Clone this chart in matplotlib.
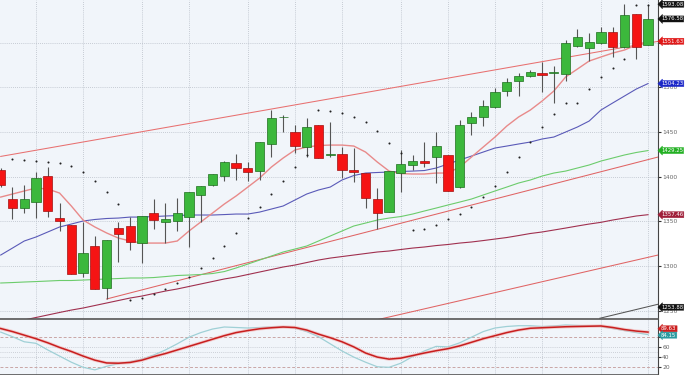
import matplotlib
matplotlib.use('Agg')
import matplotlib.pyplot as plt
import numpy as np

# daily candles, index 0..55
opens  = [1407, 1375, 1365, 1372, 1401, 1354, 1346, 1292, 1322, 1275, 1342.5, 1345, 1326, 1359, 1349, 1350,
          1355, 1379.5, 1391, 1401, 1415, 1410, 1406, 1437, 1466.5, 1450, 1433, 1458, 1424, 1425, 1407.5, 1404,
          1375, 1360, 1404, 1413, 1417.5, 1422, 1424, 1388, 1460, 1467, 1478, 1496, 1507, 1513, 1516, 1516,
          1515, 1546, 1544, 1550, 1562, 1545, 1582, 1547]
highs  = [1410, 1388, 1391, 1405, 1411, 1370, 1346, 1349, 1334, 1329, 1349, 1355, 1356, 1375, 1370, 1376,
          1383, 1390, 1403, 1417.5, 1425, 1416, 1439, 1475, 1469, 1458, 1466, 1458, 1461, 1433, 1432, 1404,
          1387, 1406, 1430, 1424, 1439, 1450, 1424, 1463, 1472, 1486, 1499, 1510.5, 1516, 1519, 1528, 1524,
          1553, 1565, 1561, 1567.5, 1567.5, 1593, 1582, 1592]
lows   = [1388, 1353, 1359, 1354, 1355, 1339, 1291, 1288, 1274, 1263, 1304.5, 1318, 1303, 1342, 1326, 1339,
          1321, 1349, 1390, 1395, 1396, 1395, 1396, 1422, 1450, 1426.5, 1422, 1421, 1422, 1398.5, 1394, 1365,
          1341, 1360, 1383, 1407.5, 1411, 1393, 1384, 1387, 1447, 1457, 1477, 1490, 1490, 1512, 1495, 1482.5,
          1507, 1545, 1529.5, 1548.5, 1534, 1544, 1532, 1547]
closes = [1391, 1365, 1375, 1398, 1362, 1350, 1291, 1315, 1274, 1329, 1336, 1327, 1356, 1351.5, 1352.5, 1359,
          1383, 1389.5, 1403, 1416, 1410, 1405, 1439, 1466, 1466.5, 1434, 1456, 1421, 1425, 1407.5, 1405, 1376,
          1359, 1406, 1414, 1417.5, 1415, 1434, 1384, 1458, 1467, 1479, 1495, 1506, 1513, 1517, 1514, 1517,
          1550, 1556, 1551, 1562, 1545, 1581, 1545, 1576.58]

ma_short = [1377.2, 1380.6, 1384.0, 1387.3, 1386.2, 1381.7, 1367.2, 1351.5, 1343.7, 1337.0, 1331.3, 1328.0,
            1325.7, 1325.7, 1325.7, 1328.0, 1339.2, 1349.3, 1359.3, 1369.4, 1378.4, 1388.4, 1398.5, 1410.8,
            1420.9, 1429.9, 1433.2, 1434.9, 1435.4, 1435.4, 1434.3, 1427.6, 1416.4, 1406.3, 1403.5, 1403.0,
            1403.0, 1404.1, 1404.1, 1410.8, 1422.0, 1433.2, 1444.4, 1456.7, 1466.8, 1474.6, 1484.7, 1495.9,
            1511.6, 1520.5, 1529.5, 1534.0, 1538.4, 1541.8, 1547.4, 1551.63]
ma_mid = [1312.3, 1320.1, 1328.0, 1332.5, 1338.1, 1343.7, 1347.0, 1350.4, 1352.1, 1353.2, 1353.7, 1354.8,
          1354.8, 1355.4, 1356.0, 1356.5, 1357.1, 1357.1, 1357.1, 1357.6, 1358.2, 1358.2, 1360.4, 1363.8,
          1367.2, 1373.9, 1380.6, 1385.1, 1388.4, 1396.3, 1401.3, 1404.1, 1404.7, 1405.2, 1405.8, 1406.3,
          1406.9, 1409.7, 1414.2, 1418.7, 1423.1, 1427.6, 1432.1, 1434.3, 1436.6, 1438.8, 1442.2, 1444.4,
          1450.0, 1455.6, 1462.3, 1474.6, 1482.5, 1490.3, 1498.1, 1504.23]
ma_long = [1281.0, 1281.5, 1282.1, 1282.6, 1283.2, 1283.8, 1283.8, 1284.3, 1284.9, 1285.5, 1286.0, 1286.6,
           1286.6, 1287.1, 1288.2, 1289.4, 1289.9, 1290.5, 1291.6, 1293.8, 1297.8, 1302.2, 1306.7, 1311.2,
           1315.7, 1319.0, 1322.4, 1328.0, 1333.6, 1339.2, 1344.8, 1348.1, 1351.5, 1353.7, 1355.4, 1358.2,
           1361.6, 1364.9, 1368.3, 1371.6, 1375.0, 1379.5, 1384.0, 1388.4, 1392.9, 1396.3, 1400.7, 1404.1,
           1406.3, 1409.7, 1413.1, 1417.5, 1420.9, 1424.3, 1427.1, 1429.25]
ma_slow = [1234.5, 1237.3, 1239.6, 1242.4, 1245.2, 1248.0, 1250.7, 1253.0, 1255.8, 1258.6, 1261.4, 1264.2,
           1266.4, 1269.2, 1272.0, 1274.3, 1277.1, 1279.9, 1282.7, 1285.5, 1287.7, 1290.5, 1293.3, 1296.1,
           1298.9, 1301.1, 1303.9, 1306.7, 1308.9, 1310.6, 1312.3, 1314.0, 1315.7, 1316.8, 1318.5, 1320.1,
           1321.3, 1322.9, 1324.1, 1325.7, 1326.9, 1328.5, 1330.2, 1331.9, 1334.1, 1336.4, 1338.1, 1340.3,
           1342.5, 1344.8, 1347.0, 1348.9, 1351.5, 1353.7, 1356.0, 1357.46]

nan = np.nan
sar = [nan, 1419.8, 1418.7, 1417.5, 1416.1, 1415.0, 1412.3, 1404.7, 1395.1, 1382.8, 1369.4, 1261.9,
       1264.2, 1268.3, 1274.3, 1280.6, 1288.0, 1297.4, 1308.6, 1322.4, 1336.9, 1353.7, 1366.0, 1380.6,
       1395.1, 1410.8, 1424.3, 1474.6, 1473.5, 1471.3, 1466.8, 1461.2, 1451.1, 1437.7, 1426.5, 1340.3,
       1341.4, 1345.9, 1352.3, 1357.9, 1366.4, 1376.9, 1389.9, 1404.9, 1422.0, 1438.8, 1455.6, 1470.1,
       1482.5, 1482.5, 1498.1, 1511.6, 1521.6, 1531.7, 1592.2, 1592.2]

# trend lines: (index, price) anchors
upper_line = [(0, 1422.7), (55.85, 1551.5)]
line_a = [(9, 1263.1), (55.85, 1422.0)]
line_c = [(31.9, 1239.6), (55.85, 1312.3)]
line_d = [(50.9, 1241.5), (55.85, 1257.2)]

stoch_d = [96, 90, 83, 76, 68, 59, 51, 42, 34, 28.5, 28, 29.5, 34, 41, 47, 54, 61, 68, 75, 82, 88, 92,
           95.5, 97.5, 99, 98, 93, 85, 78, 70, 60, 48, 40, 36, 38, 43, 48, 52.5, 56.5, 62, 69, 76, 82, 88,
           93, 96.5, 97.5, 98.5, 99.5, 100, 100.5, 101, 98, 94, 91, 89]
stoch_k = [89, 80, 70, 67, 54, 42, 30, 20, 15, 22, 27, 31, 36, 44, 54, 66, 79, 88, 95, 99, 98, 97, 98, 99,
           99, 97, 90, 80, 66, 52, 40, 30, 21, 20, 28, 41, 52, 61, 60, 68, 79, 90, 97, 100, 101.5, 101.5,
           100, 101, 103, 102, 101, 100, 96, 92, 88, 84]

week_starts = [3, 7, 12, 16, 21, 25, 29, 34, 38, 42, 46, 51, 55]
price_ticks = [1250, 1300, 1350, 1400, 1450, 1500, 1550]
osc_ticks = [20, 40, 60, 80]
osc_labels = ['20', '40', '60', '']   # 80 sits behind the value tags

price_tags = [(1593.08, '#111111'), (1576.58, '#111111'), (1551.63, '#e01818'), (1504.23, '#1c28c8'),
              (1429.25, '#22b022'), (1357.46, '#a0203a'), (1253.88, '#111111')]
osc_tags = [(95.5, '#cc1f1f'), (83.0, '#2a9aa0')]
osc_tag_text = ['89.63', '84.15']

bg = '#f1f5fa'
fig = plt.figure(figsize=(6.85, 3.75), dpi=100)
ax = fig.add_axes([0, 56 / 375, 658 / 685, 319 / 375])
ax2 = fig.add_axes([0, 0, 658 / 685, 55 / 375], sharex=ax)

x = np.arange(len(closes))
o = np.array(opens); c = np.array(closes); h = np.array(highs); l = np.array(lows)

for a in (ax, ax2):
    a.set_facecolor(bg)
    for w in week_starts:
        a.axvline(w, color='#b8bec8', lw=0.6, ls=(0, (1, 1.5)), zorder=0)
    for s in ['left', 'top']:
        a.spines[s].set_visible(False)
    a.spines['right'].set_color('#444444')
    a.spines['right'].set_linewidth(0.8)
    a.spines['bottom'].set_color('#555555')
    a.spines['bottom'].set_linewidth(1.2)
    a.yaxis.tick_right()
    a.tick_params(axis='y', direction='out', length=2, width=0.8, color='#333333',
                  labelsize=4.3, labelcolor='#666666', pad=1)
    a.tick_params(axis='x', bottom=False, labelbottom=False)

for p in price_ticks:
    ax.axhline(p, color='#b8bec8', lw=0.6, ls=(0, (1, 1.5)), zorder=0)

# trend lines
for line, col in [(upper_line, '#e87070'), (line_a, '#e06464'), (line_c, '#e06464'), (line_d, '#555555')]:
    ax.plot([line[0][0], line[1][0]], [line[0][1], line[1][1]], color=col, lw=0.75, zorder=1)

ax.plot(x, ma_slow, color='#a0304f', lw=0.8, zorder=1)
ax.plot(x, ma_long, color='#6ccc6c', lw=0.8, zorder=1)
ax.plot(x, ma_mid, color='#5a5ab8', lw=0.8, zorder=1)
ax.plot(x, ma_short, color='#e88a8a', lw=1.0, zorder=1)

# candles
up = c >= o
body_lo = np.minimum(o, c)
body_h = np.maximum(np.abs(c - o), 0.8)
ax.vlines(x, l, h, color='#555555', lw=0.8, zorder=2)
ax.bar(x[up], body_h[up], bottom=body_lo[up], width=0.78, color='#3cb83c', edgecolor='#1e6e1e', lw=0.5, zorder=3)
ax.bar(x[~up], body_h[~up], bottom=body_lo[~up], width=0.78, color='#f51414', edgecolor='#a01010', lw=0.5, zorder=3)

ax.scatter(x, sar, s=2.2, color='#222222', linewidths=0, zorder=4)

ax.set_xlim(-0.06, 55.85)
ax.set_ylim(1240.7, 1597.8)
ax.set_yticks(price_ticks)
ax.set_yticklabels([str(p) for p in price_ticks])


def tag(axis, text, val, col):
    axis.annotate(text, xy=(1.0, val), xycoords=axis.get_yaxis_transform(), xytext=(2.2, 0),
                  textcoords='offset points', fontsize=3.9, color='white', va='center', ha='left',
                  annotation_clip=False, zorder=10,
                  bbox=dict(boxstyle='larrow,pad=0.1', fc=col, ec=col, lw=0.3))


for val, col in price_tags:
    tag(ax, f'{val:.2f}', val, col)

# oscillator panel
ax2.axhline(80, color='#c9a6a6', lw=0.7, ls=(0, (3, 2)), zorder=0)
ax2.axhline(20, color='#c9a6a6', lw=0.7, ls=(0, (3, 2)), zorder=0)
for lv in [60, 50, 40]:
    ax2.axhline(lv, color='#c0c4cc', lw=0.6, ls=(0, (1, 1.5)), zorder=0)
ax2.plot(x, stoch_k, color='#9fd0d6', lw=0.9, zorder=2)
ax2.plot(x, stoch_d, color='#f2b0b0', lw=2.4, alpha=0.6, zorder=2)
ax2.plot(x, stoch_d, color='#c81e1e', lw=1.1, zorder=3)
ax2.set_ylim(4.9, 112.7)
ax2.set_yticks(osc_ticks)
ax2.set_yticklabels(osc_labels)
for (val, col), txt in zip(osc_tags, osc_tag_text):
    tag(ax2, txt, val, col)

fig.savefig('out.png', dpi=100, facecolor='white')
